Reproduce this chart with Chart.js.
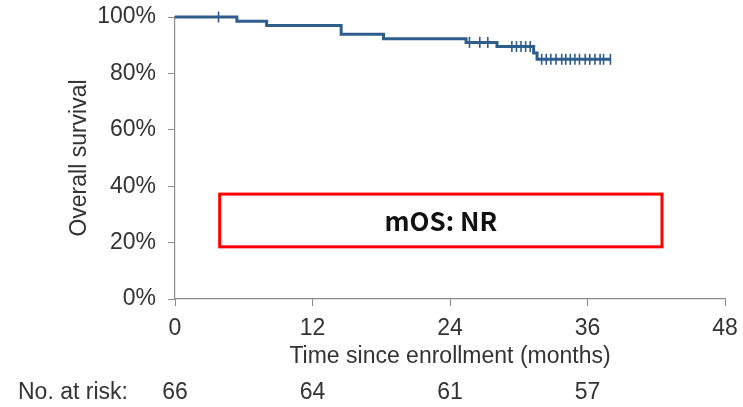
<!DOCTYPE html>
<html>
<head>
<meta charset="utf-8">
<script src="https://cdn.jsdelivr.net/npm/chart.js@4.4.0/dist/chart.umd.min.js"></script>
<style>
  html, body { margin: 0; padding: 0; background: #fff; }
</style>
</head>
<body>
<canvas id="os-chart" width="743" height="407"></canvas>
<script>
// Kaplan-Meier steps: month of each drop and survival (%) after it
const eventMonths = [0, 5.4, 8.0, 14.5, 18.2, 25.4, 28.1, 31.3, 31.6, 38.0];
const eventSurv = [100, 98.5, 97.0, 93.9, 92.3, 91.0, 89.5, 87.2, 85.0, 85.0];

// censored patients (tick marks on the curve)
const censorMonths = [3.8, 25.7, 26.6, 27.3, 29.4, 29.8, 30.2, 30.6, 31.0,
  32.0, 32.4, 32.8, 33.25, 33.75, 34.1, 34.5, 34.9, 35.3, 35.8, 36.2, 36.65, 37.1, 37.4, 38.0];
const censorSurv = [100, 91.0, 91.0, 91.0, 89.5, 89.5, 89.5, 89.5, 89.5,
  85.0, 85.0, 85.0, 85.0, 85.0, 85.0, 85.0, 85.0, 85.0, 85.0, 85.0, 85.0, 85.0, 85.0, 85.0];

const xTicks = [0, 12, 24, 36, 48];
const yTicks = [0, 20, 40, 60, 80, 100];
const atRiskMonths = [0, 12, 24, 36];
const atRiskCounts = [66, 64, 61, 57];
const medianText = 'mOS: NR';

const axisGrey = '#8c8c8c';
const textColor = '#333';
const curveBlue = '#2f5d8c';
const axisFont = { family: '"Liberation Sans", Arial, sans-serif', size: 23 };

// red box with the median and the numbers-at-risk row under the axis
const riskTable = {
  id: 'riskTable',
  afterDraw(chart) {
    const { ctx, scales: { x, y } } = chart;
    ctx.save();
    const left = x.getPixelForValue(3.9), right = x.getPixelForValue(42.5);
    const top = y.getPixelForValue(37.2), bottom = y.getPixelForValue(18.5);
    ctx.strokeStyle = '#ff0000';
    ctx.lineWidth = 3;
    ctx.strokeRect(left, top, right - left, bottom - top);
    ctx.fillStyle = '#111';
    ctx.font = 'bold 26px "Noto Sans CJK KR", "Noto Sans", sans-serif';
    ctx.textAlign = 'center';
    ctx.textBaseline = 'middle';
    ctx.fillText(medianText, (left + right) / 2, (top + bottom) / 2 + 1);

    ctx.font = '23px "Liberation Sans", Arial, sans-serif';
    ctx.fillStyle = textColor;
    ctx.textAlign = 'left';
    ctx.fillText('No. at risk:', 18, 393);
    ctx.textAlign = 'center';
    atRiskMonths.forEach((m, i) => {
      ctx.fillText(String(atRiskCounts[i]), x.getPixelForValue(m), 393);
    });
    ctx.restore();
  }
};

new Chart(document.getElementById('os-chart'), {
  type: 'line',
  data: {
    datasets: [
      {
        label: 'OS',
        data: eventMonths.map((m, i) => ({ x: m, y: eventSurv[i] })),
        borderColor: curveBlue,
        borderWidth: 3,
        stepped: true,
        pointRadius: 0,
        fill: false,
        clip: false,
      },
      {
        label: 'Censored',
        data: censorMonths.map((m, i) => ({ x: m, y: censorSurv[i] })),
        showLine: false,
        pointStyle: 'line',
        rotation: 90,
        pointRadius: 5.5,
        borderWidth: 1.6,
        borderColor: curveBlue,
        clip: false,
      },
    ],
  },
  options: {
    responsive: false,
    animation: false,
    devicePixelRatio: 1,
    layout: { padding: { left: 0, right: 18, top: 17, bottom: 0 } },
    plugins: {
      legend: { display: false },
      tooltip: { enabled: false },
    },
    scales: {
      x: {
        type: 'linear',
        min: 0,
        max: 48,
        afterBuildTicks: (scale) => { scale.ticks = xTicks.map(v => ({ value: v })); },
        afterFit: (scale) => {
          scale.height = 108;
          scale.paddingLeft = 0;
          scale.paddingRight = 0;
        },
        grid: { drawOnChartArea: false, drawTicks: true, tickLength: 7, color: axisGrey },
        border: { display: true, color: axisGrey, width: 1.2 },
        ticks: { color: textColor, font: axisFont, padding: 9, maxRotation: 0 },
        title: {
          display: true,
          text: 'Time since enrollment (months)',
          color: textColor,
          font: axisFont,
          padding: { top: 0, bottom: 37 },
        },
      },
      y: {
        min: 0,
        max: 100,
        afterBuildTicks: (scale) => { scale.ticks = yTicks.map(v => ({ value: v })); },
        afterFit: (scale) => {
          scale.width = 175;
          // keep the plot top fixed by the layout padding alone
          scale.paddingTop = 0;
          scale.paddingBottom = 0;
        },
        grid: { drawOnChartArea: false, drawTicks: true, tickLength: 7, color: axisGrey },
        border: { display: true, color: axisGrey, width: 1.2 },
        ticks: { color: textColor, font: axisFont, padding: 12, callback: (v) => v + '%' },
        title: {
          display: true,
          text: 'Overall survival',
          color: textColor,
          font: axisFont,
          padding: { top: 66, bottom: 0 },
        },
      },
    },
  },
  plugins: [riskTable],
});
</script>
</body>
</html>
